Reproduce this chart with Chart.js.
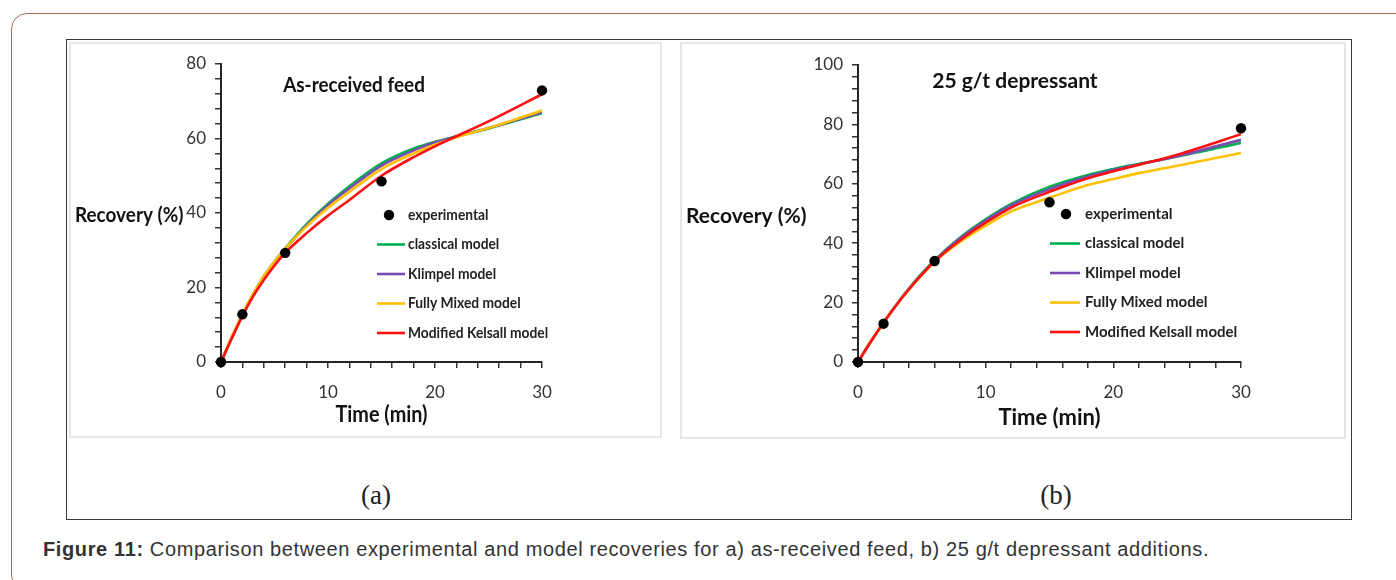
<!DOCTYPE html>
<html>
<head>
<meta charset="utf-8">
<title>Figure 11</title>
<script src="https://cdn.jsdelivr.net/npm/chart.js@4.4.1/dist/chart.umd.min.js"></script>
<style>
  html, body { margin: 0; padding: 0; background: #fff; width: 1396px; height: 580px; overflow: hidden; position: relative; }
  #frame { position: absolute; left: 11px; top: 13px; width: 1402px; height: 578px; border: 1.5px solid #a9705c; border-radius: 16px; box-sizing: border-box; }
  #box { position: absolute; left: 66px; top: 39px; width: 1286px; height: 481px; border: 1.5px solid #3a3a3a; box-sizing: border-box; }
  .panel { position: absolute; top: 42px; border: 2px solid #e6e6e6; box-sizing: border-box; background: #fff; }
  #pa { left: 69px; width: 593px; height: 396px; }
  #pb { left: 680px; width: 666px; height: 397px; }
  canvas { position: absolute; }
  #ca { left: 71px; top: 43px; }
  #cb { left: 682px; top: 43px; }
  .sub { position: absolute; top: 479px; line-height: 32px; font-family: "Liberation Serif", "Times New Roman", serif; font-size: 27px; color: #222; transform: translateX(-50%); }
  #caption { position: absolute; left: 43px; top: 538px; line-height: 22px; font-family: "Liberation Sans", Arial, sans-serif; font-size: 20px; letter-spacing: 0.62px; color: #333; white-space: nowrap; }
</style>
</head>
<body>
<div id="frame"></div>
<div id="box"></div>
<div class="panel" id="pa"></div>
<div class="panel" id="pb"></div>
<canvas id="ca" width="589" height="393"></canvas>
<canvas id="cb" width="662" height="394"></canvas>
<div class="sub" style="left:376px">(a)</div>
<div class="sub" style="left:1056px">(b)</div>
<div id="caption"><b>Figure 11:</b> Comparison between experimental and model recoveries for a) as-received feed, b) 25 g/t depressant additions.</div>

<script>
// Flotation time (min) at which the fitted curves are tabulated, and sampling times of the tests
const modelTimes  = [0, 1, 2, 3, 4, 5, 6, 8, 10, 12, 15, 18, 20, 22, 25, 30];
const sampleTimes = [0, 2, 6, 15, 30];

const seriesNames  = ['experimental', 'classical model', 'Klimpel model', 'Fully Mixed model', 'Modified Kelsall model'];
const seriesColors = ['#000000', '#00b050', '#7a4cb4', '#ffc000', '#ff1010'];

const timeTickLabels          = [0, 10, 20, 30];
const feedRecoveryTicks       = [0, 20, 40, 60, 80];
const depressantRecoveryTicks = [0, 20, 40, 60, 80, 100];

// (a) as-received feed, recovery (%)
const feedExperimental = [0, 12.8, 29.3, 48.5, 72.9];
const feedClassical    = [0, 6.6, 12.7, 18.2, 23.0, 27.0, 30.5, 37.0, 42.5, 47.2, 53.3, 57.3, 59.1, 60.6, 62.7, 66.8];
const feedKlimpel      = [0, 6.5, 12.6, 18.0, 22.8, 26.8, 30.3, 36.7, 42.1, 46.6, 52.7, 56.8, 58.9, 60.5, 62.8, 67.1];
const feedFullyMixed   = [0, 6.7, 12.8, 18.2, 23.0, 27.0, 30.4, 36.4, 41.4, 45.7, 51.8, 56.0, 58.3, 60.3, 62.8, 67.5];
const feedKelsall      = [0, 6.3, 12.3, 17.6, 22.0, 25.9, 29.3, 34.6, 39.3, 43.5, 50.0, 55.0, 57.9, 60.6, 64.6, 71.9];

// (b) 25 g/t depressant, recovery (%)
const depExperimental  = [0, 12.9, 34.0, 53.8, 78.7];
const depClassical     = [0, 6.9, 13.3, 19.3, 24.8, 29.8, 34.3, 41.9, 48.0, 53.2, 59.0, 63.0, 65.0, 66.7, 69.2, 73.8];
const depKlimpel       = [0, 6.9, 13.3, 19.3, 24.7, 29.7, 34.1, 41.6, 47.6, 52.7, 58.2, 62.4, 64.6, 66.5, 69.3, 74.8];
const depFullyMixed    = [0, 6.9, 13.2, 19.2, 24.5, 29.3, 33.7, 40.4, 45.9, 50.7, 55.3, 59.6, 61.6, 63.6, 66.1, 70.4];
const depKelsall       = [0, 6.8, 13.2, 19.1, 24.5, 29.4, 33.9, 41.0, 46.9, 52.0, 57.3, 61.9, 64.2, 66.4, 69.8, 76.7];

const FONT = 'Lato, "Open Sans", "DejaVu Sans", sans-serif';

// Draws the in-plot title, the horizontal y-axis title, the x-axis title and the legend box
const panelText = {
  id: 'panelText',
  afterDatasetsDraw(chart, args, o) {
    const { ctx, chartArea } = chart;
    const put = (text, x, y, size, weight, align, color, squeeze) => {
      ctx.save();
      ctx.font = `${weight} ${size}px ${FONT}`;
      ctx.fillStyle = color;
      ctx.textAlign = align;
      ctx.textBaseline = 'middle';
      ctx.fillText(text, x, y, ctx.measureText(text).width * squeeze);
      ctx.restore();
    };
    put(o.title, o.titleX, o.titleY, o.titleSize, 'bold', 'center', '#111', o.squeeze);
    put(o.yTitle, o.yTitleX, o.yTitleY, o.yTitleSize, 'bold', 'left', '#111', o.squeeze);
    put(o.xTitle, (chartArea.left + chartArea.right) / 2, chartArea.bottom + o.xTitleOffset, o.xTitleSize, 'bold', 'center', '#111', o.squeeze);

    chart.data.datasets.forEach((ds, i) => {
      const y = o.legendY + i * o.legendGap;
      ctx.save();
      if (ds.showLine === false) {
        ctx.fillStyle = ds.pointBackgroundColor;
        ctx.beginPath();
        ctx.arc(o.dotX, y, ds.pointRadius, 0, Math.PI * 2);
        ctx.fill();
      } else {
        ctx.strokeStyle = ds.borderColor;
        ctx.lineWidth = ds.borderWidth;
        ctx.beginPath();
        ctx.moveTo(o.lineX0, y);
        ctx.lineTo(o.lineX1, y);
        ctx.stroke();
      }
      ctx.restore();
      put(ds.label, o.textX, y, o.legendSize, 'bold', 'left', '#222', o.legendSqueeze);
    });
  }
};

function isLabelled(list, v) {
  const r = Math.round(v);
  return Math.abs(v - r) < 1e-6 && list.includes(r);
}

function recoveryChart(id, experimental, models, yMax, yTicks, layout, text) {
  const datasets = [{
    label: seriesNames[0],
    data: sampleTimes.map((t, i) => ({ x: t, y: experimental[i] })),
    showLine: false,
    pointRadius: 5.2,
    pointBackgroundColor: seriesColors[0],
    pointBorderColor: seriesColors[0],
    pointBorderWidth: 0,
    borderColor: seriesColors[0],
    order: 0,
    clip: false
  }].concat(models.map((vals, k) => ({
    label: seriesNames[k + 1],
    data: modelTimes.map((t, i) => ({ x: t, y: vals[i] })),
    borderColor: seriesColors[k + 1],
    backgroundColor: seriesColors[k + 1],
    borderWidth: 2.6,
    pointRadius: 0,
    fill: false,
    cubicInterpolationMode: 'monotone',
    order: 4 - k
  })));

  const tickFont = { family: FONT, size: 17 };
  return new Chart(document.getElementById(id), {
    type: 'line',
    data: { datasets },
    plugins: [panelText],
    options: {
      responsive: false,
      animation: false,
      devicePixelRatio: 1,
      layout: { padding: layout.padding },
      plugins: { legend: { display: false }, tooltip: { enabled: false }, panelText: text },
      scales: {
        x: {
          type: 'linear', min: 0, max: 30,
          afterFit(s) { s.height = layout.xHeight; },
          ticks: {
            stepSize: 2, autoSkip: false, maxRotation: 0, padding: 14,
            color: '#333', font: tickFont,
            callback: v => isLabelled(timeTickLabels, v) ? String(Math.round(v)) : ''
          },
          grid: { drawOnChartArea: false, drawTicks: true, tickLength: 6, color: '#333', lineWidth: 1.5 },
          border: { display: true, color: '#262626', width: 2 }
        },
        y: {
          type: 'linear', min: 0, max: yMax,
          afterFit(s) { s.width = layout.yWidth; },
          ticks: {
            stepSize: 4, autoSkip: false, padding: 9,
            color: '#333', font: tickFont,
            callback: v => isLabelled(yTicks, v) ? String(Math.round(v)) : ''
          },
          grid: { drawOnChartArea: false, drawTicks: true, tickLength: 6, color: '#333', lineWidth: 1.5 },
          border: { display: true, color: '#262626', width: 2 }
        }
      }
    }
  });
}

recoveryChart('ca', feedExperimental,
  [feedClassical, feedKlimpel, feedFullyMixed, feedKelsall],
  80, feedRecoveryTicks,
  { padding: { left: 0, right: 118, top: 21, bottom: 34 }, yWidth: 150, xHeight: 40 },
  {
    squeeze: 0.9, legendSqueeze: 0.92,
    title: 'As-received feed', titleX: 283, titleY: 42, titleSize: 21,
    yTitle: 'Recovery (%)', yTitleX: 4, yTitleY: 172, yTitleSize: 21,
    xTitle: 'Time (min)', xTitleOffset: 53, xTitleSize: 22,
    legendY: 172, legendGap: 29.5, dotX: 318, lineX0: 306, lineX1: 334, textX: 337, legendSize: 15
  });

recoveryChart('cb', depExperimental,
  [depClassical, depKlimpel, depFullyMixed, depKelsall],
  100, depressantRecoveryTicks,
  { padding: { left: 0, right: 103, top: 22, bottom: 35 }, yWidth: 176, xHeight: 40 },
  {
    squeeze: 1, legendSqueeze: 1,
    title: '25 g/t depressant', titleX: 333, titleY: 38, titleSize: 21,
    yTitle: 'Recovery (%)', yTitleX: 4, yTitleY: 173, yTitleSize: 21,
    xTitle: 'Time (min)', xTitleOffset: 56, xTitleSize: 22,
    legendY: 171, legendGap: 29.5, dotX: 384, lineX0: 368, lineX1: 398, textX: 403, legendSize: 15
  });
</script>
</body>
</html>
